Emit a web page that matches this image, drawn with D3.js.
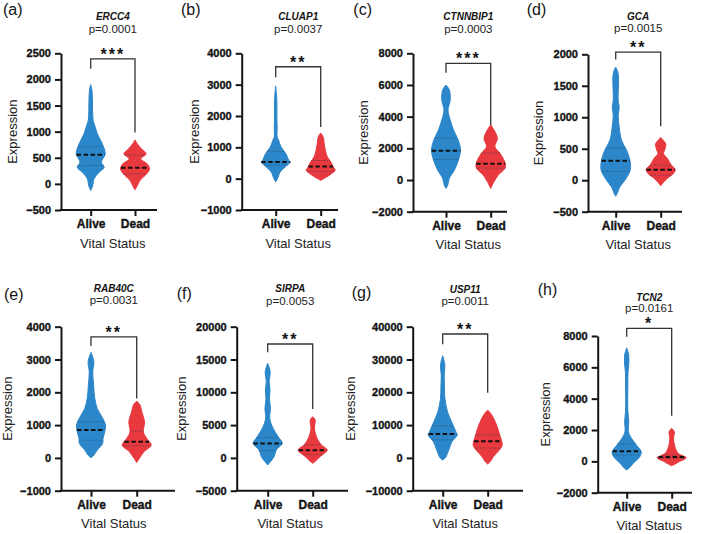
<!DOCTYPE html>
<html><head><meta charset="utf-8">
<script src="https://cdn.jsdelivr.net/npm/d3@7"></script>
<style>body{margin:0;background:#fff} svg{display:block;font-family:"Liberation Sans",Arial,sans-serif}</style>
</head><body><svg id="c" width="705" height="534"></svg>
<script>
// ---------------- data ----------------
const panelLetters = ["(a)","(b)","(c)","(d)","(e)","(f)","(g)","(h)"];
const genes = ["ERCC4","CLUAP1","CTNNBIP1","GCA","RAB40C","SIRPA","USP11","TCN2"];
const pLabels = ["p=0.0001","p=0.0037","p=0.0003","p=0.0015","p=0.0031","p=0.0053","p=0.0011","p=0.0161"];
const sigStars = ["***","**","***","**","**","**","**","*"];
const categories = ["Alive","Dead"];
const yDomains = [[-500,2500],[-1000,4000],[-2000,8000],[-500,2000],[-1000,4000],[-5000,20000],[-10000,40000],[-2000,8000]];
const yTickStep = [500,1000,2000,500,1000,5000,10000,2000];

// violin density profiles: [value, relative width]
const aliveProfiles = [
  [[-128,0],[-33,0.14],[96,0.23],[222,0.58],[318,0.93],[414,0.74],[575,1.0],[766,0.8],[958,0.46],[1100,0.3],[1212,0.17],[1400,0.13],[1596,0.12],[1800,0.08],[1900,0]],
  [[-109,0],[51,0.17],[211,0.3],[371,0.65],[531,1.0],[586,0.9],[800,0.7],[1011,0.37],[1226,0.2],[1331,0.1],[1600,0.1],[2000,0.08],[2500,0.08],[2954,0]],
  [[-526,0],[-316,0.12],[105,0.23],[632,0.58],[1263,0.86],[1895,1.0],[2526,0.84],[3158,0.52],[3789,0.29],[4421,0.14],[5052,0.29],[5684,0.23],[6000,0]],
  [[-254,0],[-212,0.1],[-106,0.29],[0,0.63],[159,1.0],[317,0.98],[476,0.75],[635,0.4],[846,0.24],[1032,0.17],[1164,0.24],[1270,0.17],[1693,0.17],[1798,0]],
  [[0,0],[85,0.2],[238,0.43],[442,0.8],[594,0.83],[796,0.95],[1000,1.0],[1253,0.75],[1509,0.43],[1814,0.26],[2220,0.18],[2625,0.12],[2930,0.2],[3216,0]],
  [[-1080,0],[-579,0.19],[183,0.44],[1204,0.59],[2225,1.0],[3232,0.72],[4512,0.37],[6036,0.14],[7560,0.19],[9000,0.12],[10350,0.16],[11615,0.1],[13140,0.17],[14420,0]],
  [[-640,0],[60,0.19],[1400,0.33],[3415,0.5],[4940,0.64],[6980,1.0],[7990,0.91],[11040,0.61],[14085,0.33],[18170,0.15],[22000,0.12],[25270,0.1],[28320,0.15],[31160,0]],
  [[-555,0],[-447,0.15],[-128,0.45],[294,0.9],[613,1.0],[1040,0.67],[1468,0.33],[1890,0.12],[2530,0.14],[3200,0.08],[4020,0.07],[5000,0.08],[5720,0.09],[6147,0.14],[6786,0.14],[7250,0]]
];
const deadProfiles = [
  [[-115,0],[-33,0.16],[64,0.34],[192,0.8],[287,1.0],[383,0.84],[479,0.4],[575,0.77],[670,0.45],[766,0.16],[843,0]],
  [[-54,0],[51,0.4],[160,0.75],[266,1.0],[371,0.87],[531,0.7],[691,0.46],[906,0.32],[1120,0.24],[1331,0.17],[1459,0]],
  [[-526,0],[-105,0.23],[316,0.52],[737,0.98],[1053,1.0],[1684,0.65],[2105,0.29],[2633,0.46],[3158,0.23],[3474,0]],
  [[-90,0],[-30,0.2],[40,0.5],[100,0.85],[170,1.0],[250,0.7],[350,0.45],[420,0.2],[500,0.3],[580,0.35],[640,0.15],[680,0]],
  [[-137,0],[-15,0.18],[186,0.5],[390,1.0],[594,0.69],[796,0.46],[1100,0.54],[1405,0.35],[1610,0.23],[1732,0]],
  [[-823,0],[-472,0.2],[183,0.5],[1204,1.0],[1966,0.6],[2988,0.3],[4512,0.12],[5777,0.17],[6280,0]],
  [[-1860,0],[-1160,0.17],[365,0.39],[2400,0.8],[3930,1.0],[6980,0.83],[10030,0.61],[13080,0.28],[14600,0]],
  [[-280,0],[-190,0.2],[-25,0.5],[230,1.0],[510,0.45],[932,0.22],[1468,0.13],[1890,0.18],[2107,0]]
];
const aliveMedian = [560,530,1850,310,850,2200,7300,650];
const aliveQ1 = [350,440,1300,140,540,1100,5500,400];
const aliveQ3 = [710,870,2650,510,1100,3100,9800,1100];
const deadMedian = [310,390,1030,165,490,1150,5100,280];
const deadQ1 = [190,230,750,80,370,500,3000,200];
const deadQ3 = [550,580,1700,240,820,2000,7000,400];
const bracketY = [2395,3571,7370,2036,3692,17363,37774,8490];
const bracketLeftEnd = [2203,3232,6776,1916,3409,16098,34634,7954];
const bracketRightEnd = [983,1651,3410,857,1814,7454,19880,2911];

// ---------------- layout ----------------
const layout = [
  {ax:61,   top:53.3, bot:210,   c0:90.7,  c1:135,   xEnd:157, yl:44, tY:19.5, pY:32.7, lX:3,     lY:15},
  {ax:241.7,top:53.3, bot:210,   c0:275.7, c1:320.7, xEnd:338, yl:43, tY:19.5, pY:32.7, lX:181,   lY:15},
  {ax:413,  top:53.3, bot:211.7, c0:446,   c1:490.7, xEnd:507, yl:45, tY:20,   pY:32.7, lX:353.3, lY:15},
  {ax:588,  top:54.3, bot:211.7, c0:615.7, c1:660.7, xEnd:682, yl:45, tY:19.5, pY:32.2, lX:526.7, lY:15},
  {ax:61,   top:326.7,bot:490.7, c0:91,    c1:136.7, xEnd:175, yl:49.5, tY:292.3, pY:304.3, lX:4, lY:300},
  {ax:236.7,top:326.7,bot:490.7, c0:267.7, c1:312.7, xEnd:348, yl:51, tY:292.3, pY:305, lX:176.7, lY:299},
  {ax:412.7,top:326.7,bot:490.7, c0:442.7, c1:487.7, xEnd:523, yl:58, tY:292.7, pY:305, lX:351.7, lY:298},
  {ax:597.7,top:336,  bot:492.7, c0:626.7, c1:671.7, xEnd:692, yl:48, tY:301, pY:311.7, lX:537.7, lY:295}
];
const colors = {Alive:"#2b87c9", Dead:"#e8393f"};
const halfW = 14.5;
const ink = "#141414";
const FONT = "'Liberation Sans',Arial,sans-serif";

const svg = d3.select("#c");

function interp(prof, v){
  for(let i=0;i<prof.length-1;i++){
    const a=prof[i], b=prof[i+1];
    if(v>=a[0] && v<=b[0]){ const t=(v-a[0])/(b[0]-a[0]); return a[1]+t*(b[1]-a[1]); }
  }
  return 0;
}

layout.forEach((L,i)=>{
  const g = svg.append("g");
  const y = d3.scaleLinear().domain(yDomains[i]).range([L.bot, L.top]);
  const x = d3.scalePoint().domain(categories).range([L.c0, L.c1]);
  const ticks = d3.range(yDomains[i][0], yDomains[i][1]+1, yTickStep[i]);

  // y axis
  const ya = g.append("g").attr("transform",`translate(${L.ax},0)`)
    .attr("font-family",FONT).attr("font-size",11).attr("font-weight","bold")
    .call(d3.axisLeft(y).tickValues(ticks).tickFormat(d3.format("d")).tickSize(6).tickPadding(4).tickSizeOuter(0));
  ya.attr("font-family",FONT).attr("font-size",11);
  ya.select(".domain").attr("stroke",ink).attr("stroke-width",2);
  ya.selectAll(".tick line").attr("stroke",ink).attr("stroke-width",2);
  ya.selectAll(".tick text").attr("fill",ink).attr("stroke",ink).attr("stroke-width",0.35)
    .style("font-size","11px").style("font-weight","bold").style("font-family",FONT);

  // x axis
  g.append("line").attr("x1",L.ax-1).attr("x2",L.xEnd).attr("y1",L.bot).attr("y2",L.bot)
    .attr("stroke",ink).attr("stroke-width",2);
  const xa = g.append("g").attr("transform",`translate(0,${L.bot})`)
    .call(d3.axisBottom(x).tickSize(6).tickPadding(6).tickSizeOuter(0));
  xa.attr("font-family",FONT);
  xa.select(".domain").remove();
  xa.selectAll(".tick line").attr("stroke",ink).attr("stroke-width",2);
  xa.selectAll(".tick text").attr("fill",ink).attr("stroke",ink).attr("stroke-width",0.35)
    .attr("dy",null).attr("y",18)
    .style("font-size","12px").style("font-weight","bold").style("font-family",FONT);

  const mid = (L.c0+L.c1)/2;
  g.append("text").attr("x",mid).attr("y",L.bot+37.5).attr("text-anchor","middle")
    .style("font-size","13px").attr("fill","#222").text("Vital Status");
  g.append("text").attr("transform",`translate(${L.ax-L.yl},${(L.top+L.bot)/2}) rotate(-90)`)
    .attr("text-anchor","middle").style("font-size","13px").attr("fill","#222").text("Expression");

  // titles
  g.append("text").attr("x",mid).attr("y",L.tY).attr("text-anchor","middle")
    .style("font-size","10px").style("font-weight","bold").style("font-style","italic").attr("fill",ink).text(genes[i]);
  g.append("text").attr("x",mid).attr("y",L.pY).attr("text-anchor","middle")
    .style("font-size","11.5px").attr("fill","#222").text(pLabels[i]);
  g.append("text").attr("x",L.lX).attr("y",L.lY)
    .style("font-size","16px").attr("fill",ink).text(panelLetters[i]);

  // bracket
  const by = y(bracketY[i]);
  g.append("path").attr("fill","none").attr("stroke","#333").attr("stroke-width",1.3)
    .attr("d",`M${x("Alive")},${y(bracketLeftEnd[i])}V${by}H${x("Dead")}V${y(bracketRightEnd[i])}`);
  g.append("text").attr("x",mid).attr("y",by+1).attr("text-anchor","middle")
    .style("font-size","16px").style("font-weight","bold").style("letter-spacing","2px")
    .attr("fill",ink).text(sigStars[i]);

  // violins
  const groups = [
    {cat:"Alive", prof:aliveProfiles[i], med:aliveMedian[i], q1:aliveQ1[i], q3:aliveQ3[i]},
    {cat:"Dead", prof:deadProfiles[i], med:deadMedian[i], q1:deadQ1[i], q3:deadQ3[i]}
  ];
  groups.forEach(G=>{
    const cx = x(G.cat);
    const area = d3.area()
      .y(d=>y(d[0])).x0(d=>cx-halfW*d[1]).x1(d=>cx+halfW*d[1])
      .curve(d3.curveCatmullRom.alpha(0.5));
    g.append("path").datum(G.prof).attr("d",area).attr("fill",colors[G.cat]).attr("stroke",colors[G.cat]).attr("stroke-width",1);
    [G.q1,G.q3].forEach(q=>{
      const w = halfW*interp(G.prof,q);
      g.append("line").attr("x1",cx-w).attr("x2",cx+w).attr("y1",y(q)).attr("y2",y(q))
        .attr("stroke","#1d3550").attr("stroke-opacity",0.7).attr("stroke-width",0.9).attr("stroke-dasharray","1,1.5");
    });
    const wm = halfW*interp(G.prof,G.med);
    g.append("line").attr("x1",cx-wm).attr("x2",cx+wm).attr("y1",y(G.med)).attr("y2",y(G.med))
      .attr("stroke","#111").attr("stroke-width",2).attr("stroke-dasharray","4.5,2.5");
  });
});
</script></body></html>
